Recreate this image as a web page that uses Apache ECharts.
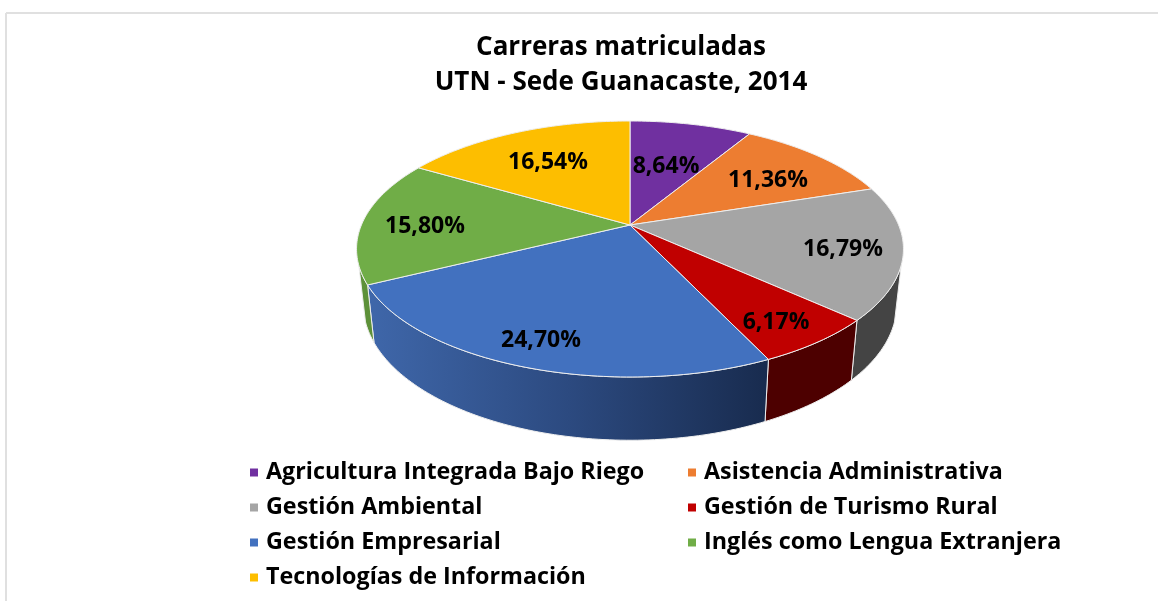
<!DOCTYPE html>
<html><head><meta charset="utf-8">
<style>html,body{margin:0;padding:0;background:#fff}#c{width:1158px;height:601px}</style>
<script src="https://cdn.jsdelivr.net/npm/echarts@6/dist/echarts.min.js"></script>
</head><body><div id="c"></div>
<script>
const categories = ['Agricultura Integrada Bajo Riego','Asistencia Administrativa','Gestión Ambiental','Gestión de Turismo Rural','Gestión Empresarial','Inglés como Lengua Extranjera','Tecnologías de Información'];
const percents = [8.64,11.36,16.79,6.17,24.70,15.80,16.54];
const topColors = ['#7030A0','#ED7D31','#A5A5A5','#C00000','#4271BF','#70AD47','#FDBE00'];
const wallColors = ['#4a2070','#a0521f','#444444','#4d0000',null,'#5d9139','#a88000'];
const labelAnchors = [[666,166],[768,180],[843,249],[776,322],[541,340],[425,226],[548,162]];

const FONT = '"Open Sans"';
const TOP_PLANE = {ax:630, ay:225, a:268.6, b:123.5, k:0.1875};
const LOW_PLANE = {ax:630, ay:279, a:262, b:131, k:0.1875};
const WALL_VISIBLE = [108, 252];
const total = percents.reduce((s,v)=>s+v,0);
const starts = []; percents.reduce((s,v,i)=>{starts[i]=s; return s+v;},0);
function project(p,deg){
  const t=deg*Math.PI/180,u=Math.sin(t),v=Math.cos(t),w=1+p.k*v;
  return [p.ax+p.a*u/w,p.ay-p.b*v/w];
}
function arc(p,d0,d1){
  const pts=[],n=Math.max(2,Math.ceil(Math.abs(d1-d0)));
  for(let i=0;i<=n;i++)pts.push(project(p,d0+(d1-d0)*i/n));
  return pts;
}
const EDGE='#eeeeee';
function renderSlice(idx){
  return function(params,api){
    const val=api.value(0);
    const a0=starts[idx]/total*360,a1=a0+val/total*360;
    const children=[];
    const w0=Math.max(a0,WALL_VISIBLE[0]),w1=Math.min(a1,WALL_VISIBLE[1]);
    if(w1>w0){
      const pts=arc(TOP_PLANE,w0,w1).concat(arc(LOW_PLANE,w1,w0));
      let fill=wallColors[idx];
      if(!fill){
        fill={type:'linear',x:0,y:0,x2:1,y2:0,colorStops:[{offset:0,color:'#3f67aa'},{offset:0.5,color:'#2c4a80'},{offset:1,color:'#182b4e'}]};
      }
      children.push({type:'polygon',z2:1,shape:{points:pts},style:{fill:fill,stroke:EDGE,lineWidth:1,lineJoin:'round'}});
    }
    const top=[[TOP_PLANE.ax,TOP_PLANE.ay]].concat(arc(TOP_PLANE,a0,a1));
    children.push({type:'polygon',z2:2,shape:{points:top},style:{fill:topColors[idx],stroke:EDGE,lineWidth:1,lineJoin:'round'}});
    children.push({type:'text',z2:10,style:{
      x:labelAnchors[idx][0],y:labelAnchors[idx][1],
      text:val.toFixed(2).replace('.',',')+'%',
      fill:'#000',font:'bold 23px '+FONT,textAlign:'center',textVerticalAlign:'middle'}});
    return {type:'group',children:children};
  };
}
const legendText={color:'#000',fontFamily:FONT,fontWeight:'bold',fontSize:23.3,lineHeight:26,padding:[0,0,0,3]};
const legendBase={orient:'vertical',icon:'rect',itemWidth:8,itemHeight:8,itemGap:9,padding:0,selectedMode:false,textStyle:legendText};
const option={
  animation:false,
  backgroundColor:'#fff',
  title:{text:'Carreras matriculadas\nUTN - Sede Guanacaste, 2014',left:616,top:25,textAlign:'center',
    textStyle:{color:'#000',fontFamily:FONT,fontWeight:'bold',fontSize:26,lineHeight:35}},
  legend:[
    Object.assign({},legendBase,{left:250,top:459.5,data:categories.filter((_,i)=>i%2===0)}),
    Object.assign({},legendBase,{left:688,top:459.5,data:categories.filter((_,i)=>i%2===1)})
  ],
  graphic:[
    {type:'line',silent:true,shape:{x1:6,y1:13,x2:1158,y2:13},style:{stroke:'#e0e0e0',lineWidth:2}},
    {type:'line',silent:true,shape:{x1:6,y1:13,x2:6,y2:601},style:{stroke:'#e0e0e0',lineWidth:2}}
  ],
  series:categories.map((name,i)=>({
    type:'custom',name:name,coordinateSystem:'none',silent:true,
    itemStyle:{color:topColors[i]},
    renderItem:renderSlice(i),
    data:[[percents[i]]]
  }))
};
echarts.init(document.getElementById('c'),null,{renderer:'canvas'}).setOption(option);
</script></body></html>
